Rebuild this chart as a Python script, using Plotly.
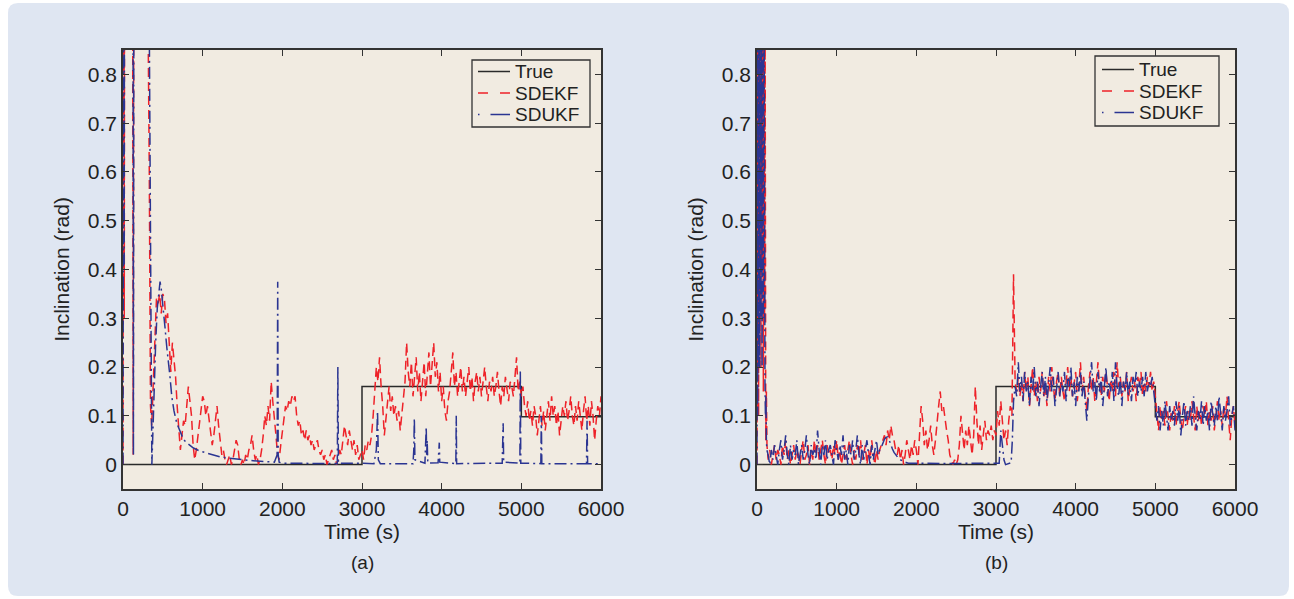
import plotly.graph_objects as go

STEP = 20  # sampling step (s) of the gridded pieces

time_ticks = [0, 1000, 2000, 3000, 4000, 5000, 6000]
time_labels = ["0", "1000", "2000", "3000", "4000", "5000", "6000"]
incl_ticks = [0, 0.1, 0.2, 0.3, 0.4, 0.5, 0.6, 0.7, 0.8]
incl_labels = ["0", "0.1", "0.2", "0.3", "0.4", "0.5", "0.6", "0.7", "0.8"]
legend_names = ["True", "SDEKF", "SDUKF"]

# ---------------- True inclination (both panels) ----------------
true_t = [0, 3000, 3000, 5000, 5000, 6000]
true_v = [0, 0, 0.16, 0.16, 0.098, 0.098]

# ---------------- Panel (a) SDEKF ----------------
a_ekf_head_t = [0, 4, 8, 12, 16, 20, 60, 120, 128, 136, 200, 300, 330, 345, 360, 380, 400, 420]
a_ekf_head_v = [0.0, 1.4, 0.1, 1.3, 0.3, 1.2, 1.5, 1.2, 0.02, 1.1, 1.5, 1.2, 0.6, 0.12, 0.08, 0.18, 0.28, 0.34]
a_ekf_grid_start = 440
a_ekf_grid_v = [
    0.33, 0.35, 0.31, 0.35, 0.34, 0.29, 0.31, 0.25, 0.19, 0.25, 0.21, 0.18, 0.12, 0.07,
    0.03, 0.06, 0.09, 0.08, 0.12, 0.16, 0.13, 0.10, 0.04, 0.01, 0.03, 0.06, 0.09, 0.12, 0.14,
    0.13, 0.10, 0.12, 0.09, 0.06, 0.04, 0.06, 0.09, 0.12, 0.08, 0.05, 0.02, 0.03, 0.01, 0.00,
    0.01, 0.02, 0.00, 0.01, 0.03, 0.05, 0.04, 0.01, 0.00, 0.01, 0.00, 0.02, 0.01, 0.03, 0.04,
    0.06, 0.03, 0.01, 0.02, 0.00, 0.01, 0.03, 0.06, 0.10, 0.08, 0.12, 0.09, 0.17, 0.13, 0.10,
    0.06, 0.02, 0.01, 0.04, 0.07, 0.10, 0.12, 0.11, 0.13, 0.12, 0.14, 0.13, 0.14, 0.10, 0.08,
    0.09, 0.06, 0.07, 0.05, 0.07, 0.05, 0.06, 0.04, 0.05, 0.03, 0.04, 0.05, 0.03, 0.02, 0.03,
    0.01, 0.02, 0.00, 0.01, 0.02, 0.03, 0.01, 0.02, 0.00, 0.01, 0.03, 0.02, 0.05, 0.08, 0.06,
    0.04, 0.07, 0.05, 0.03, 0.05, 0.02, 0.04, 0.01, 0.02, 0.03, 0.01, 0.04, 0.03, 0.05, 0.04,
    0.06, 0.10, 0.15, 0.20, 0.17, 0.22, 0.16, 0.12, 0.06, 0.09, 0.13, 0.16, 0.11, 0.14, 0.10,
    0.12, 0.09, 0.11, 0.07, 0.10, 0.14, 0.17, 0.25, 0.19, 0.16, 0.21, 0.14, 0.18, 0.22, 0.15,
    0.19, 0.13, 0.17, 0.21, 0.14, 0.18, 0.23, 0.16, 0.20, 0.25, 0.18, 0.21, 0.15, 0.19, 0.13,
    0.16, 0.11, 0.09, 0.13, 0.15, 0.19, 0.23, 0.16, 0.19, 0.14, 0.17, 0.20, 0.15, 0.18, 0.14,
    0.17, 0.20, 0.15, 0.18, 0.13, 0.17, 0.19, 0.15, 0.18, 0.14, 0.17, 0.20, 0.16, 0.13, 0.17,
    0.15, 0.18, 0.14, 0.16, 0.19, 0.15, 0.12, 0.16, 0.14, 0.18, 0.15, 0.13, 0.17, 0.16, 0.14,
    0.18, 0.22, 0.15, 0.17, 0.14, 0.16, 0.12, 0.10, 0.13, 0.09, 0.11, 0.08, 0.12, 0.10, 0.06,
    0.09, 0.12, 0.08, 0.11, 0.07, 0.10, 0.13, 0.09, 0.14, 0.10, 0.12, 0.08, 0.11, 0.06, 0.09,
    0.12, 0.10, 0.13, 0.09, 0.11, 0.14, 0.10, 0.08, 0.12, 0.09, 0.13, 0.10, 0.07, 0.11, 0.14,
    0.09, 0.12, 0.08, 0.13, 0.10, 0.05, 0.09, 0.12, 0.10, 0.14,
]

# ---------------- Panel (a) SDUKF ----------------
a_ukf_t = [0, 3, 7, 11, 15, 20, 60, 125, 131, 137, 200, 300, 330, 362, 372, 390, 410, 430, 450,
           465, 480, 500, 528, 550, 570, 590, 612, 640, 675, 720, 760, 820, 884, 960, 1051,
           1140, 1218, 1300, 1385, 1500, 1637, 1763, 1900, 1935, 1942, 1948, 1960, 2000, 2300,
           2690, 2697, 2704, 3000, 3150, 3180, 3195, 3205, 3230, 3640, 3650, 3657, 3664, 3790,
           3800, 3806, 3812, 3818, 3826, 3955, 3965, 3970, 3976, 4178, 4183, 4188, 4760, 4768,
           4772, 4778, 4982, 4987, 4993, 5245, 5251, 5257, 5818, 5825, 5832, 6000]
a_ukf_v = [0.0, 1.3, 0.1, 1.3, 0.4, 1.2, 1.5, 1.2, 0.02, 1.2, 1.5, 1.3, 0.9, 0.0, 0.05, 0.15, 0.25,
           0.32, 0.36, 0.375, 0.36, 0.33, 0.28, 0.24, 0.215, 0.18, 0.14, 0.11, 0.085, 0.065,
           0.051, 0.042, 0.034, 0.028, 0.024, 0.02, 0.016, 0.014, 0.012, 0.010, 0.008, 0.007,
           0.005, 0.02, 0.375, 0.02, 0.005, 0.003, 0.003, 0.002, 0.2, 0.003, 0.003, 0.002, 0.03,
           0.11, 0.01, 0.002, 0.002, 0.03, 0.095, 0.01, 0.003, 0.04, 0.078, 0.02, 0.05, 0.003,
           0.004, 0.03, 0.045, 0.005, 0.002, 0.1, 0.002, 0.003, 0.04, 0.085, 0.005, 0.003, 0.195,
           0.003, 0.002, 0.1, 0.002, 0.002, 0.09, 0.002, 0.002]

# ---------------- Panel (b) SDEKF ----------------
b_ekf_head_t = [0, 5, 10, 15, 20, 28, 35, 42, 50, 58, 65, 72, 80, 88, 95, 102, 110, 118, 125]
b_ekf_head_v = [0.0, 1.4, 0.2, 1.4, 0.1, 1.3, 0.3, 1.4, 0.2, 1.3, 0.4, 1.3, 0.15, 1.2, 0.3, 0.9,
                0.05, 0.15, 0.04]
b_ekf_grid_start = 140
b_ekf_grid_v = [
    0.01, 0.03, 0.00, 0.02, 0.04, 0.01, 0.03, 0.02, 0.00, 0.04,
    0.02, 0.05, 0.01, 0.03, 0.00, 0.02, 0.04, 0.01, 0.03, 0.02,
    0.00, 0.03, 0.05, 0.01, 0.02, 0.04, 0.00, 0.03, 0.01, 0.05,
    0.02, 0.04, 0.01, 0.03, 0.05, 0.02, 0.00, 0.04, 0.02, 0.03,
    0.01, 0.04, 0.02, 0.05, 0.01, 0.03, 0.00, 0.02, 0.04, 0.01,
    0.03, 0.05, 0.02, 0.00, 0.03, 0.01, 0.04, 0.02, 0.05, 0.01,
    0.02, 0.04, 0.00, 0.03, 0.01, 0.05, 0.02, 0.00, 0.03, 0.01,
    0.03,
    0.04, 0.05, 0.06, 0.04, 0.07, 0.05, 0.08, 0.06,
    0.05, 0.03, 0.02, 0.04, 0.01, 0.03, 0.00, 0.02, 0.05, 0.03,
    0.01, 0.04, 0.02, 0.05, 0.03, 0.00, 0.06, 0.12, 0.09, 0.04,
    0.07, 0.03, 0.05, 0.08, 0.04, 0.02, 0.05, 0.09, 0.12, 0.15,
    0.11, 0.12, 0.09, 0.07, 0.05, 0.02, 0.01, 0.00, 0.01, 0.00,
    0.01, 0.04, 0.10, 0.06, 0.03, 0.07, 0.04, 0.08, 0.05, 0.02,
    0.06, 0.16, 0.09, 0.04, 0.08, 0.03, 0.06, 0.09, 0.05, 0.07,
    0.06, 0.08, 0.05, 0.07, 0.06, 0.11, 0.08, 0.13, 0.09, 0.05,
    0.07, 0.04, 0.09, 0.12, 0.10, 0.39, 0.17, 0.15, 0.18, 0.14,
    0.17, 0.13, 0.19, 0.15, 0.18, 0.12, 0.16, 0.20, 0.14, 0.17,
    0.13, 0.18, 0.15, 0.19, 0.14, 0.16, 0.12, 0.18, 0.15, 0.20,
    0.16, 0.13, 0.17, 0.19, 0.14, 0.18, 0.15, 0.13, 0.17, 0.20,
    0.15, 0.18, 0.14, 0.17, 0.19, 0.13, 0.16, 0.21, 0.15, 0.18,
    0.14, 0.11, 0.16, 0.19, 0.15, 0.18, 0.13, 0.17, 0.21, 0.16,
    0.14, 0.18, 0.15, 0.19, 0.16, 0.13, 0.17, 0.15, 0.19, 0.14,
    0.21, 0.16, 0.18, 0.14, 0.17, 0.15, 0.19, 0.13, 0.16, 0.18,
    0.15, 0.17, 0.13, 0.18, 0.16, 0.19, 0.14, 0.17, 0.15, 0.18,
    0.16, 0.19, 0.15, 0.17, 0.14,
    0.10, 0.07, 0.12, 0.09, 0.11, 0.08, 0.13, 0.10, 0.07, 0.11,
    0.09, 0.12, 0.08, 0.11, 0.13, 0.09, 0.07, 0.10, 0.12, 0.08,
    0.11, 0.09, 0.13, 0.10, 0.07, 0.12, 0.09, 0.11, 0.08, 0.12,
    0.10, 0.13, 0.08, 0.11, 0.09, 0.12, 0.07, 0.10, 0.13, 0.09,
    0.11, 0.08, 0.12, 0.10, 0.14, 0.09, 0.05, 0.10, 0.12, 0.08,
]

# ---------------- Panel (b) SDUKF ----------------
b_ukf_head_t = [0, 4, 9, 14, 21, 27, 34, 41, 49, 57, 64, 71, 79, 87, 94, 100, 106, 112, 118, 124]
b_ukf_head_v = [0.0, 1.3, 0.1, 1.4, 0.2, 1.4, 0.2, 1.3, 0.3, 1.4, 0.2, 1.2, 0.3, 1.1, 0.2, 0.17,
                0.10, 0.14, 0.05, 0.03]
b_ukf_grid1_start = 140
b_ukf_grid1_v = [
    0.02, 0.00, 0.03, 0.01, 0.04, 0.02, 0.00, 0.03, 0.05, 0.01,
    0.03, 0.06, 0.02, 0.00, 0.04, 0.01, 0.03, 0.02, 0.05, 0.00,
    0.02, 0.04, 0.01, 0.03, 0.06, 0.02, 0.00, 0.04, 0.02, 0.03,
    0.01, 0.07, 0.03, 0.00, 0.04, 0.02, 0.05, 0.01, 0.03, 0.04,
    0.02, 0.00, 0.05, 0.03, 0.01, 0.04, 0.02, 0.06, 0.01, 0.03,
    0.00, 0.04, 0.02, 0.05, 0.01, 0.03, 0.06, 0.02, 0.00, 0.04,
    0.01, 0.03, 0.05, 0.02, 0.00, 0.04, 0.01, 0.03, 0.05, 0.02,
    0.03,
    0.035, 0.045, 0.052, 0.056, 0.057, 0.05, 0.04, 0.032, 0.025, 0.02,
    0.015, 0.012, 0.01, 0.008, 0.006, 0.005, 0.004, 0.003,
]
b_ukf_mid_t = [1960, 2400, 2800, 3040, 3060, 3080, 3100, 3120, 3160, 3190, 3205, 3220]
b_ukf_mid_v = [0.003, 0.002, 0.003, 0.003, 0.07, 0.04, 0.01, 0.0, 0.002, 0.004, 0.05, 0.13]
b_ukf_grid2_start = 3240
b_ukf_grid2_v = [
    0.16, 0.14, 0.21, 0.15, 0.18, 0.13, 0.19, 0.15, 0.17, 0.12,
    0.18, 0.15, 0.20, 0.14, 0.17, 0.12, 0.16, 0.19, 0.14, 0.18,
    0.13, 0.17, 0.20, 0.15, 0.18, 0.12, 0.16, 0.19, 0.14, 0.17,
    0.15, 0.19, 0.13, 0.18, 0.16, 0.20, 0.14, 0.17, 0.12, 0.18,
    0.15, 0.19, 0.14, 0.17, 0.13, 0.09, 0.14, 0.18, 0.21, 0.15,
    0.17, 0.13, 0.19, 0.15, 0.18, 0.12, 0.16, 0.20, 0.14, 0.17,
    0.15, 0.19, 0.13, 0.21, 0.16, 0.14, 0.18, 0.12, 0.17, 0.15,
    0.19, 0.14, 0.17, 0.13, 0.18, 0.16, 0.19, 0.14, 0.17, 0.15,
    0.18, 0.14, 0.19, 0.15, 0.17, 0.16, 0.18, 0.15, 0.13,
    0.09, 0.12, 0.07, 0.11, 0.08, 0.13, 0.10, 0.07, 0.12, 0.09,
    0.11, 0.08, 0.13, 0.09, 0.12, 0.06, 0.10, 0.13, 0.08, 0.11,
    0.09, 0.12, 0.08, 0.14, 0.10, 0.07, 0.11, 0.09, 0.13, 0.08,
    0.12, 0.09, 0.11, 0.07, 0.13, 0.10, 0.08, 0.12, 0.09, 0.14,
    0.10, 0.07, 0.12, 0.09, 0.11, 0.14, 0.08, 0.10, 0.12, 0.07,
]


def grid_times(start, values):
    return [start + STEP * i for i in range(len(values))]


a_ekf_t = a_ekf_head_t + grid_times(a_ekf_grid_start, a_ekf_grid_v)
a_ekf_v = a_ekf_head_v + a_ekf_grid_v
b_ekf_t = b_ekf_head_t + grid_times(b_ekf_grid_start, b_ekf_grid_v)
b_ekf_v = b_ekf_head_v + b_ekf_grid_v
b_ukf_t = (b_ukf_head_t + grid_times(b_ukf_grid1_start, b_ukf_grid1_v) + b_ukf_mid_t
           + grid_times(b_ukf_grid2_start, b_ukf_grid2_v))
b_ukf_v = b_ukf_head_v + b_ukf_grid1_v + b_ukf_mid_v + b_ukf_grid2_v

# ---------------- styling ----------------
RED = "#ee2229"
BLUE = "#2b3592"
BLACK = "#2a2a2a"
AXC = "#333333"
TXT = "#222222"
PLOT_BG = "#f1ebe1"
BOX_BG = "#dfe6f2"
FONT = "Liberation Sans, Arial, Helvetica, sans-serif"
FS = 21
LEG_FS = 19
RED_DASH = "9px,5px"
BLUE_DASH = "12px,4px,2px,4px"
LINE_STYLES = [dict(color=BLACK, width=1.5),
               dict(color=RED, width=1.5, dash=RED_DASH),
               dict(color=BLUE, width=1.5, dash=BLUE_DASH)]

fig = go.Figure()
for xa, ya, et, ev, ut, uv in [
    ("x", "y", a_ekf_t, a_ekf_v, a_ukf_t, a_ukf_v),
    ("x2", "y2", b_ekf_t, b_ekf_v, b_ukf_t, b_ukf_v),
]:
    for name, (tt, vv), ls in zip(legend_names, [(true_t, true_v), (et, ev), (ut, uv)], LINE_STYLES):
        fig.add_trace(go.Scatter(x=tt, y=vv, mode="lines", name=name, line=ls,
                                 xaxis=xa, yaxis=ya, showlegend=False))

W, H = 1294, 599
ML, MR, MT, MB = 123, 59, 50, 110
PW, PH = W - ML - MR, H - MT - MB


def px_x(px):
    return (px - ML) / PW


def px_y(py):
    return (H - MB - py) / PH


dom_a = [0, px_x(601)]
dom_b = [px_x(757), 1]

axis_common = dict(showline=True, linecolor=AXC, linewidth=1.5, mirror="allticks",
                   ticks="inside", ticklen=6, tickwidth=1.2, tickcolor=AXC,
                   showgrid=False, zeroline=False,
                   tickfont=dict(size=FS, color=TXT, family=FONT))
xcommon = dict(axis_common, range=[0, 6000], tickvals=time_ticks, ticktext=time_labels,
               title=dict(text="Time (s)", font=dict(size=FS, color=TXT, family=FONT),
                          standoff=2))
ycommon = dict(axis_common, range=[-0.05, 0.85], tickvals=incl_ticks, ticktext=incl_labels,
               title=dict(text="Inclination (rad)", font=dict(size=FS, color=TXT, family=FONT),
                          standoff=12))

# rounded light-blue panel behind everything
r = 10
L, R, T, B = 8, 1289, 3, 596
path = (f"M {px_x(L + r)},{px_y(T)} L {px_x(R - r)},{px_y(T)} "
        f"Q {px_x(R)},{px_y(T)} {px_x(R)},{px_y(T + r)} L {px_x(R)},{px_y(B - r)} "
        f"Q {px_x(R)},{px_y(B)} {px_x(R - r)},{px_y(B)} L {px_x(L + r)},{px_y(B)} "
        f"Q {px_x(L)},{px_y(B)} {px_x(L)},{px_y(B - r)} L {px_x(L)},{px_y(T + r)} "
        f"Q {px_x(L)},{px_y(T)} {px_x(L + r)},{px_y(T)} Z")
shapes = [dict(type="path", xref="paper", yref="paper", path=path,
               fillcolor=BOX_BG, line=dict(width=0), layer="below")]
for dom in (dom_a, dom_b):
    shapes.append(dict(type="rect", xref="paper", yref="paper", x0=dom[0], x1=dom[1],
                       y0=0, y1=1, fillcolor=PLOT_BG, line=dict(width=0), layer="below"))

annotations = []
# hand-drawn legends (box, line samples, labels) so the spacing matches the figure
legend_specs = [
    # box left, right, top, bottom, sample x0, x1, text x, row y's
    (472, 590, 60, 127, 478, 510, 514, [71.5, 93, 114.5]),
    (1095, 1219, 56, 126, 1102, 1134, 1138, [69.5, 91, 112.5]),
]
legend_dashes = [None, "10px,12px", "1.5px,11px,20px"]
for bl, br, bt, bb, sx0, sx1, tx, rows in legend_specs:
    shapes.append(dict(type="rect", xref="paper", yref="paper",
                       x0=px_x(bl), x1=px_x(br), y0=px_y(bb), y1=px_y(bt),
                       fillcolor=PLOT_BG, line=dict(color=AXC, width=1.3), layer="above"))
    for name, ls, dash, ry in zip(legend_names, LINE_STYLES, legend_dashes, rows):
        ln = dict(color=ls["color"], width=1.5)
        if dash:
            ln["dash"] = dash
        shapes.append(dict(type="line", xref="paper", yref="paper",
                           x0=px_x(sx0), x1=px_x(sx1), y0=px_y(ry), y1=px_y(ry),
                           line=ln, layer="above"))
        annotations.append(dict(text=name, x=px_x(tx), y=px_y(ry), xref="paper", yref="paper",
                                showarrow=False, xanchor="left", yanchor="middle", borderpad=0,
                                font=dict(size=LEG_FS, color=TXT, family=FONT)))

for label, dom in (("(a)", dom_a), ("(b)", dom_b)):
    annotations.append(dict(text=label, x=(dom[0] + dom[1]) / 2, y=px_y(562),
                            xref="paper", yref="paper", showarrow=False,
                            xanchor="center", yanchor="middle",
                            font=dict(size=19, color=TXT, family=FONT)))

fig.update_layout(
    width=W, height=H,
    margin=dict(l=ML, r=MR, t=MT, b=MB, pad=0),
    paper_bgcolor="white", plot_bgcolor=PLOT_BG,
    font=dict(family=FONT, size=FS, color=TXT),
    xaxis=dict(xcommon, domain=dom_a, anchor="y"),
    yaxis=dict(ycommon, domain=[0, 1], anchor="x"),
    xaxis2=dict(xcommon, domain=dom_b, anchor="y2"),
    yaxis2=dict(ycommon, domain=[0, 1], anchor="x2"),
    shapes=shapes,
    annotations=annotations,
    showlegend=False,
)

fig.write_html("out.html")
